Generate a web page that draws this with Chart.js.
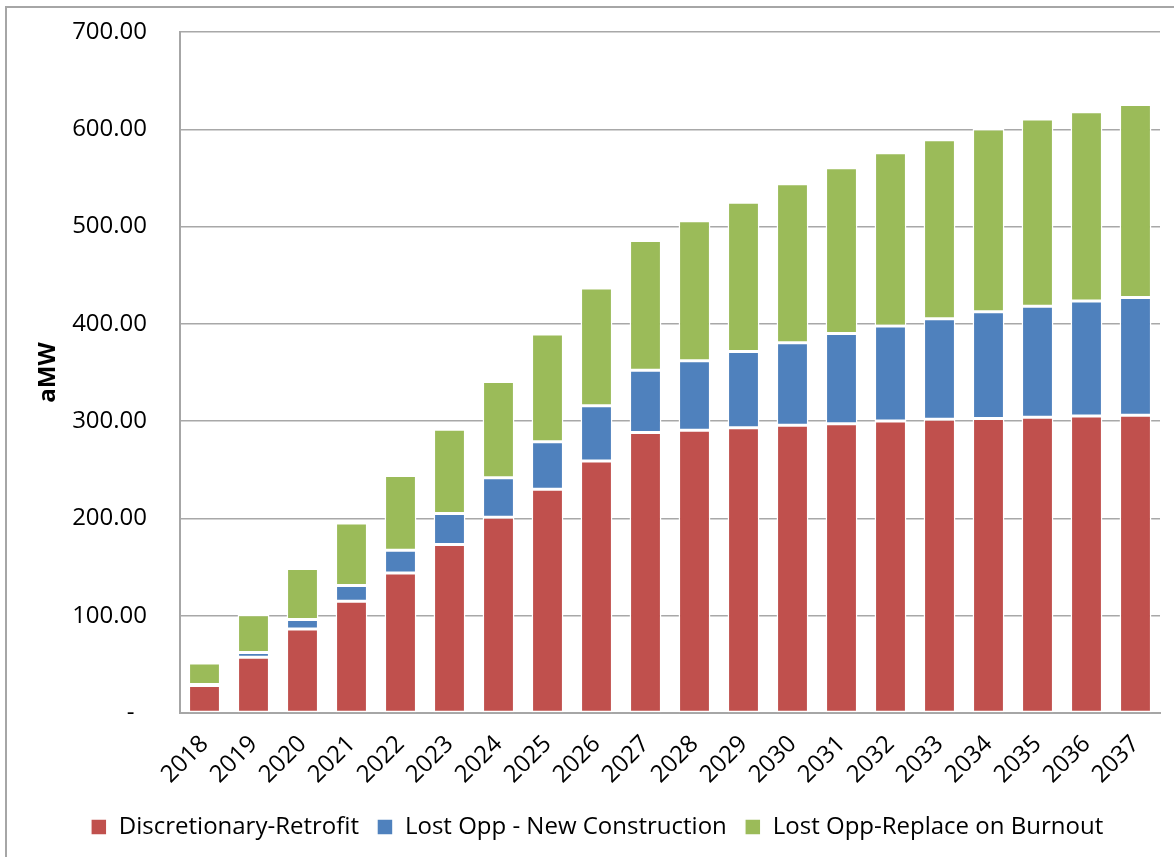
<!DOCTYPE html>
<html>
<head>
<meta charset="utf-8">
<script src="https://cdn.jsdelivr.net/npm/chart.js@4.4.1/dist/chart.umd.min.js"></script>
<style>
  html, body { margin: 0; padding: 0; background: #fff; }
  #wrap { position: relative; width: 1174px; height: 857px; }
  #frame { position: absolute; left: 5px; top: 6px; width: 1180px; height: 870px; border: 2px solid #a6a6a6; box-sizing: border-box; pointer-events: none; }
  canvas { position: absolute; left: 0; top: 0; }
</style>
</head>
<body>
<div id="wrap">
  <canvas id="chart" width="1174" height="857"></canvas>
  <div id="frame"></div>
</div>
<script>
const years = ['2018', '2019', '2020', '2021', '2022', '2023', '2024', '2025', '2026', '2027',
    '2028', '2029', '2030', '2031', '2032', '2033', '2034', '2035', '2036', '2037'];
const retrofit = [28.3, 57.2, 86.3, 114.8, 144.0, 173.2, 201.3, 229.9, 259.0, 288.2,
    290.6, 293.3, 295.8, 297.4, 300.2, 302.0, 302.6, 304.0, 305.3, 306.0];
const newConstruction = [1.0, 5.1, 9.7, 16.2, 23.4, 31.9, 40.5, 49.0, 56.7, 64.2,
    71.4, 78.3, 84.7, 92.6, 97.5, 103.3, 109.9, 114.0, 118.2, 121.2];
const burnout = [22.0, 38.8, 52.5, 64.2, 76.6, 86.6, 98.9, 110.6, 121.2, 133.2,
    143.9, 153.4, 163.5, 170.4, 178.2, 184.0, 187.7, 192.5, 194.6, 198.4];
const yTicks = [0, 100, 200, 300, 400, 500, 600, 700];

const font = "'Open Sans', 'Noto Sans', sans-serif";

function makeSet(label, data, color) {
    return {
        label: label,
        data: data,
        backgroundColor: color,
        borderColor: '#ffffff',
        borderWidth: 1.5,
        borderSkipped: false,
        categoryPercentage: 1.0,
        barPercentage: 0.65
    };
}

new Chart(document.getElementById('chart'), {
    type: 'bar',
    data: {
        labels: years,
        datasets: [
            makeSet('Discretionary-Retrofit', retrofit, '#C0504D'),
            makeSet('Lost Opp - New Construction', newConstruction, '#4F81BD'),
            makeSet('Lost Opp-Replace on Burnout', burnout, '#9BBB59')
        ]
    },
    options: {
        responsive: false,
        animation: false,
        layout: { padding: { left: 34, right: 14, top: 32, bottom: 8 } },
        plugins: {
            tooltip: { enabled: false },
            legend: {
                position: 'bottom',
                labels: {
                    boxWidth: 16,
                    boxHeight: 16,
                    padding: 18,
                    color: '#000',
                    font: { family: font, size: 24 }
                }
            }
        },
        scales: {
            x: {
                stacked: true,
                grid: { display: false },
                border: { display: true, color: '#a6a6a6', width: 2 },
                ticks: {
                    color: '#000',
                    minRotation: 45,
                    maxRotation: 45,
                    padding: 9,
                    font: { family: font, size: 24 }
                },
                afterFit: (scale) => { scale.height = 84; }
            },
            y: {
                stacked: true,
                min: 0,
                max: 700,
                afterBuildTicks: (scale) => { scale.ticks = yTicks.map(v => ({ value: v })); },
                grid: { color: '#a8a8a8', lineWidth: 1.5, drawTicks: false },
                border: { display: true, color: '#a6a6a6', width: 2 },
                ticks: {
                    color: '#000',
                    padding: 8,
                    font: { family: font, size: 24 },
                    // trailing spaces keep the labels clear of the axis, like the original
                    callback: (v) => v === 0 ? '-      ' : v.toFixed(2) + '    '
                },
                title: {
                    display: true,
                    text: 'aMW',
                    color: '#000',
                    padding: { top: 0, bottom: 10 },
                    font: { family: font, size: 24, weight: 'bold' }
                },
                afterFit: (scale) => { scale.width = 146; }
            }
        }
    }
});
</script>
</body>
</html>
